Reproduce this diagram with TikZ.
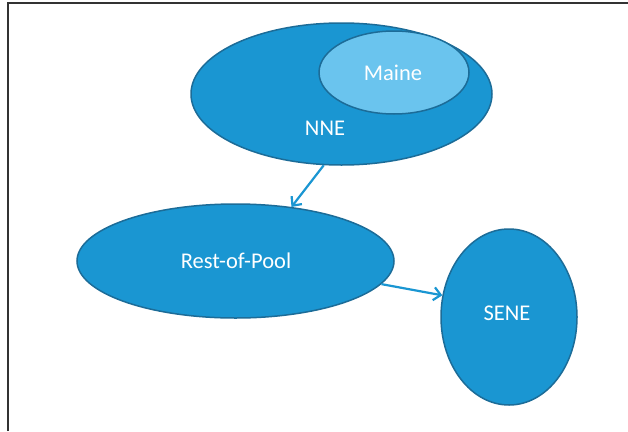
\documentclass[tikz,border=0pt]{standalone}
\usepackage{fontspec}
\setmainfont{Carlito}
\usetikzlibrary{shapes.geometric,arrows.meta}
\definecolor{blobfill}{RGB}{26,150,210}
\definecolor{mainefill}{RGB}{106,196,238}
\definecolor{blobedge}{RGB}{28,108,152}
\definecolor{frameline}{RGB}{50,50,50}
\tikzset{
  blob/.style={ellipse, draw=blobedge, line width=1.5pt, fill=blobfill, inner sep=0pt},
  lbl/.style={text=white, font=\fontsize{22.5}{27}\selectfont, inner sep=0pt},
  conn/.style={draw=blobfill, line width=2.2pt, -{Straight Barb[length=7pt,width=13pt,line width=2.2pt]}},
}
\begin{document}
\begin{tikzpicture}[x=1pt,y=-1pt]
\useasboundingbox (0,0) rectangle (628,431);
\fill[white] (0,0) rectangle (628,431);
\coordinate (fa) at (8,431);
\coordinate (fb) at (8,3);
\coordinate (fc) at (628,3);
\draw[frameline, line width=1.2pt] (fa) -- (fb) -- (fc);
\node[blob, minimum width=301pt, minimum height=142pt] (nne) at (341.5,94) {};
\node[blob, fill=mainefill, minimum width=150pt, minimum height=83pt] (maine) at (394,72.5) {};
\node[lbl] (mainetxt) at (393,73) {Maine};
\node[lbl] (nnetxt) at (325,128) {NNE};
\node[blob, minimum width=317pt, minimum height=114pt] (rop) at (235.5,261) {};
\node[lbl] (roptxt) at (236,261) {Rest-of-Pool};
\node[blob, minimum width=136pt, minimum height=176pt] (sene) at (509,317) {};
\node[lbl] (senetxt) at (507,313) {SENE};
\draw[conn] (nne.256) -- (rop.44);
\draw[conn] (rop.351) -- (sene.162);
\end{tikzpicture}
\end{document}
